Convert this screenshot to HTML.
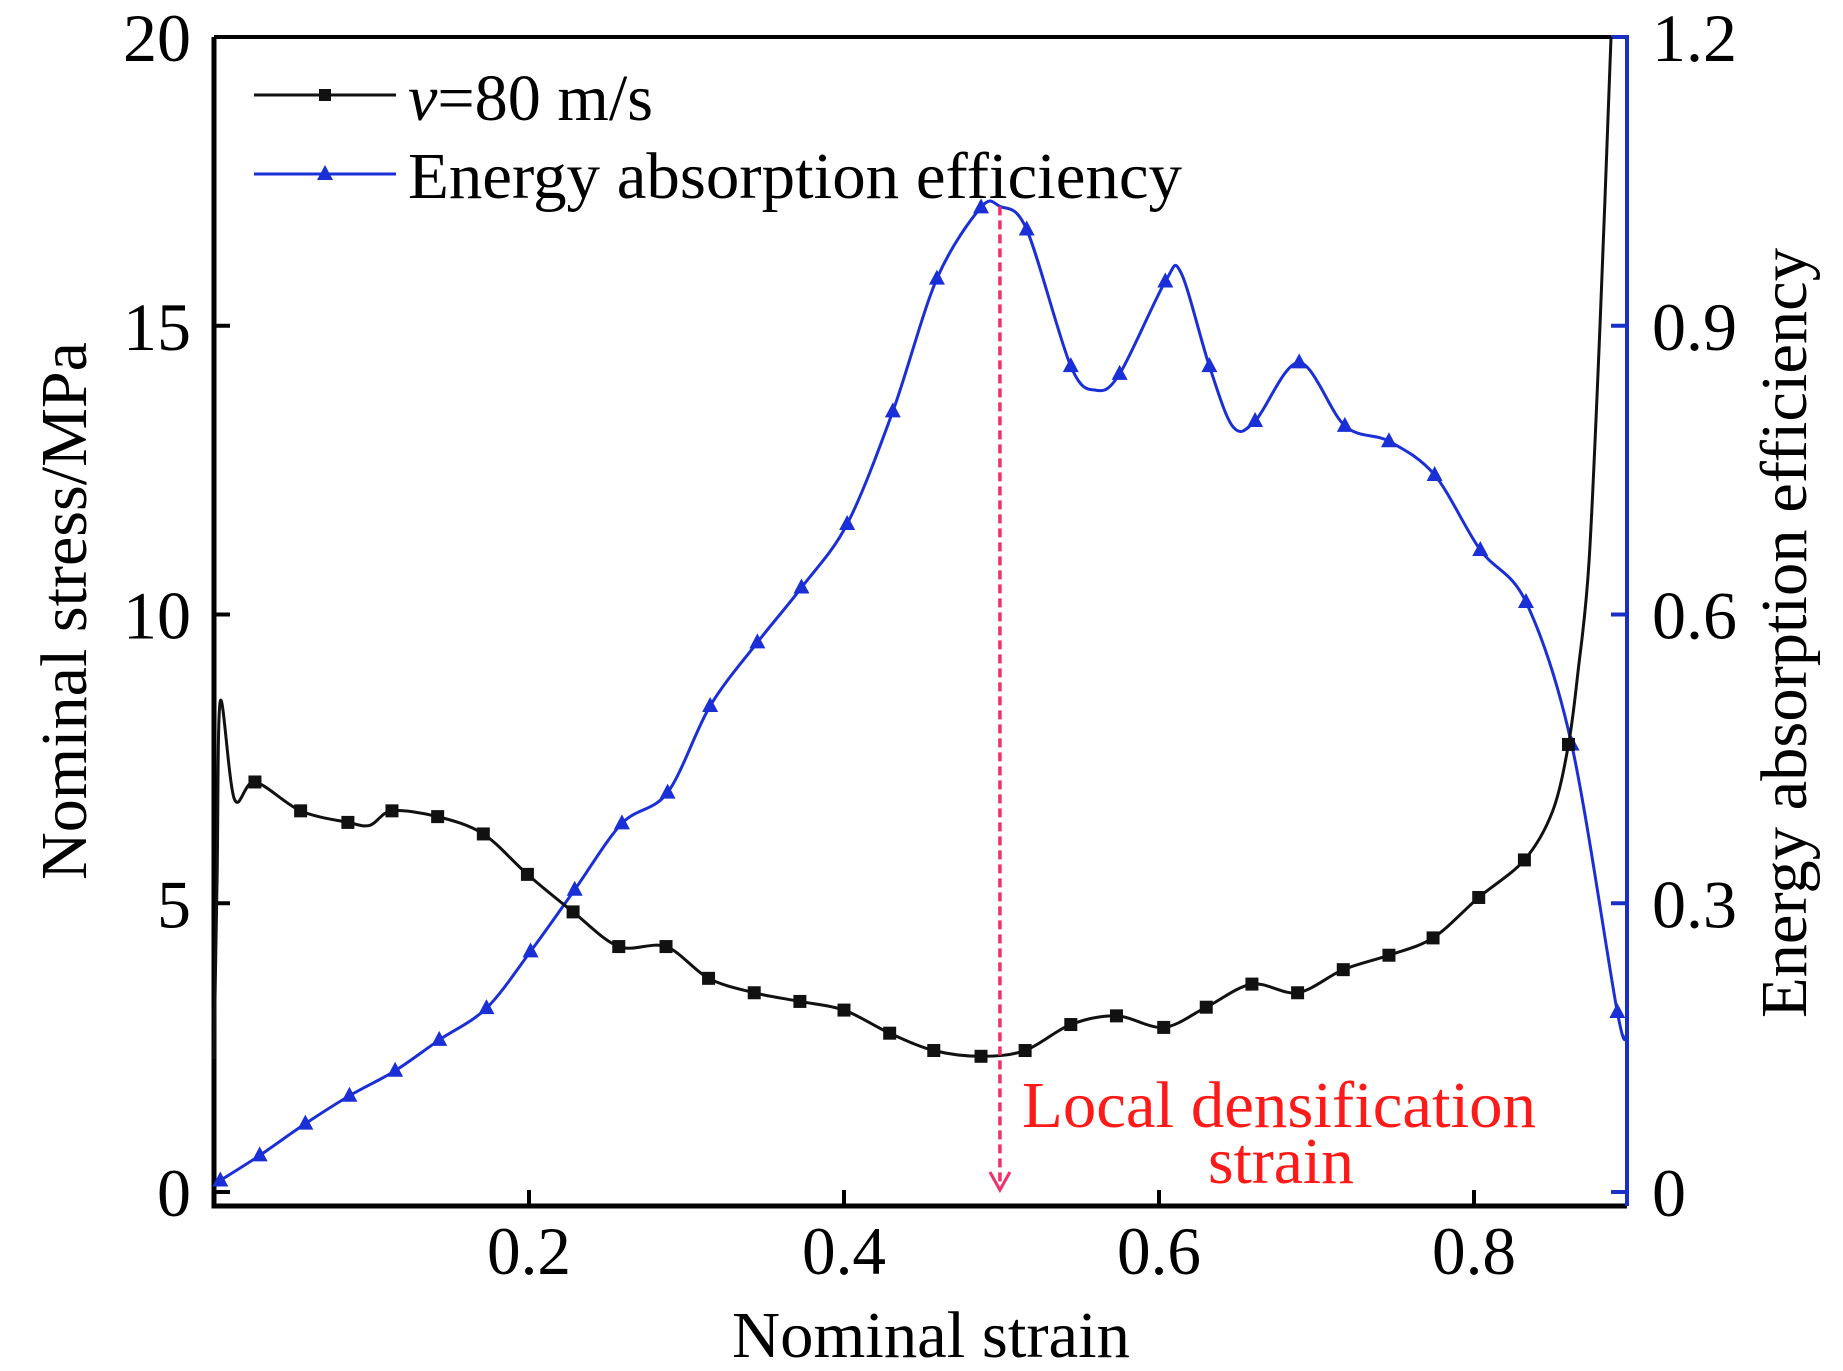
<!DOCTYPE html>
<html><head><meta charset="utf-8"><style>
html,body{margin:0;padding:0;background:#fff;}
svg{display:block;font-family:"Liberation Serif",serif;}
</style></head><body>
<svg id="chart" width="1843" height="1371" viewBox="0 0 1843 1371" xmlns="http://www.w3.org/2000/svg">
<g id="plot"></g>
</svg>
<script>
const stressX=[0,0.002,0.004,0.013,0.026,0.055,0.085,0.099,0.113,0.142,0.171,0.199,0.228,0.257,0.287,0.314,0.343,0.372,0.400,0.429,0.457,0.487,0.515,0.544,0.573,0.603,0.630,0.659,0.688,0.717,0.746,0.774,0.803,0.832,0.850,0.860,0.866,0.873,0.880,0.887];
const stressY=[2.3,5.5,8.5,6.8,7.1,6.6,6.4,6.35,6.6,6.5,6.2,5.5,4.85,4.25,4.25,3.7,3.45,3.3,3.15,2.75,2.45,2.35,2.45,2.9,3.05,2.85,3.2,3.6,3.45,3.85,4.1,4.4,5.1,5.75,6.6,7.75,9.0,10.9,15,20];
const stressMarker=[0,0,0,0,1,1,1,0,1,1,1,1,1,1,1,1,1,1,1,1,1,1,1,1,1,1,1,1,1,1,1,1,1,1,0,1,0,0,0,0];
const effX=[0.004,0.029,0.058,0.086,0.115,0.143,0.173,0.201,0.229,0.259,0.288,0.315,0.345,0.373,0.402,0.431,0.459,0.487,0.499,0.516,0.544,0.560,0.575,0.604,0.614,0.632,0.647,0.661,0.689,0.718,0.746,0.775,0.804,0.833,0.862,0.891,0.897];
const effY=[0.012,0.038,0.071,0.10,0.126,0.158,0.191,0.25,0.314,0.383,0.415,0.505,0.571,0.628,0.694,0.811,0.949,1.023,1.024,1.0,0.858,0.833,0.85,0.946,0.955,0.858,0.795,0.801,0.862,0.796,0.78,0.745,0.667,0.613,0.465,0.187,0.163];
const effMarker=[1,1,1,1,1,1,1,1,1,1,1,1,1,1,1,1,1,1,0,1,1,0,1,1,0,1,0,1,1,1,1,1,1,1,1,1,0];
const xTicks=[0.2,0.4,0.6,0.8];
const xTickLabels=["0.2","0.4","0.6","0.8"];
const yTicks=[0,5,10,15,20];
const yTickLabels=["0","5","10","15","20"];
const y2Ticks=[0,0.3,0.6,0.9,1.2];
const y2TickLabels=["0","0.3","0.6","0.9","1.2"];
const densStrain=[0.499];

const L=214,R=1627,T=37,B=1206,Y0=1192;
const sx=v=>L+v/0.2*315;
const sy=v=>Y0-v/20*(Y0-T);
const sy2=v=>Y0-v/1.2*(Y0-T);
const NS="http://www.w3.org/2000/svg";
const g=document.getElementById('plot');
function mk(tag,attrs,parent){const e=document.createElementNS(NS,tag);for(const k in attrs)e.setAttribute(k,attrs[k]);(parent||g).appendChild(e);return e;}
function smooth(pts){let d="M"+pts[0][0]+","+pts[0][1];for(let i=0;i<pts.length-1;i++){const p0=pts[Math.max(0,i-1)],p1=pts[i],p2=pts[i+1],p3=pts[Math.min(pts.length-1,i+2)];const t=0.16;d+=" C"+(p1[0]+(p2[0]-p0[0])*t)+","+(p1[1]+(p2[1]-p0[1])*t)+" "+(p2[0]-(p3[0]-p1[0])*t)+","+(p2[1]-(p3[1]-p1[1])*t)+" "+p2[0]+","+p2[1];}return d;}

let e;
e=mk('path',{d:`M${L},${T} L${R},${T}`,stroke:'#000','stroke-width':4,fill:'none'});

e=mk('path',{d:`M${L},${T} L${L},${B} L${R},${B}`,stroke:'#000','stroke-width':5,fill:'none'});

e=mk('path',{d:`M${R-12},${T} L${R},${T} L${R},${B}`,stroke:'#1a2fc8','stroke-width':4,fill:'none'});


xTicks.forEach((v,i)=>{
 e=mk('line',{x1:sx(v),x2:sx(v),y1:B,y2:B-16,stroke:'#000','stroke-width':4});
 
 e=mk('text',{x:sx(v),y:1274,'font-size':68,'text-anchor':'middle',textLength:84,lengthAdjust:'spacingAndGlyphs'});e.textContent=xTickLabels[i];
 
});
yTicks.forEach((v,i)=>{
 e=mk('text',{x:191,y:sy(v)+24,'font-size':68,'text-anchor':'end'});e.textContent=yTickLabels[i];
 
 e=mk('line',{x1:L,x2:L+16,y1:sy(v),y2:sy(v),stroke:'#000','stroke-width':4});
 
});
y2Ticks.forEach((v,i)=>{
 e=mk('line',{x1:R,x2:R-16,y1:sy2(v),y2:sy2(v),stroke:'#1a2fc8','stroke-width':4});
 
 e=mk('text',{x:1652,y:sy2(v)+24,'font-size':68,'text-anchor':'start'});e.textContent=y2TickLabels[i];
 
});

e=mk('text',{x:931,y:1357,'font-size':66,'text-anchor':'middle',textLength:398,lengthAdjust:'spacingAndGlyphs'});e.textContent='Nominal strain';

e=mk('text',{x:0,y:0,'font-size':66,'text-anchor':'middle',textLength:538,lengthAdjust:'spacingAndGlyphs',transform:'translate(86,611) rotate(-90)'});e.textContent='Nominal stress/MPa';

e=mk('text',{x:0,y:0,'font-size':66,'text-anchor':'middle',textLength:770,lengthAdjust:'spacingAndGlyphs',transform:'translate(1806,633) rotate(-90)'});e.textContent='Energy absorption efficiency';


const ep=effX.map((x,i)=>[sx(x),sy2(effY[i])]);
e=mk('path',{d:smooth(ep),stroke:'#1a2fd6','stroke-width':3,fill:'none'});

ep.forEach((p,i)=>{if(!effMarker[i])return;
 e=mk('polygon',{points:`${p[0]},${p[1]-9} ${p[0]-8},${p[1]+6} ${p[0]+8},${p[1]+6}`,fill:'#1a2fd6'});
 
});
const sp=stressX.map((x,i)=>[sx(x),sy(stressY[i])]);
e=mk('path',{d:smooth(sp),stroke:'#111','stroke-width':3,fill:'none'});

sp.forEach((p,i)=>{if(!stressMarker[i])return;
 e=mk('rect',{x:p[0]-6.5,y:p[1]-6.5,width:13,height:13,fill:'#111'});
 
});

densStrain.forEach(v=>{
 const ax=sx(v);
 e=mk('line',{x1:ax,x2:ax,y1:sy2(1.024),y2:Y0-2,stroke:'#f0306a','stroke-width':3.5,'stroke-dasharray':'9,5'});
 
 e=mk('path',{d:`M${ax-10},${Y0-20} L${ax},${Y0-2} L${ax+10},${Y0-20}`,stroke:'#f0306a','stroke-width':3,fill:'none'});
 
});
e=mk('text',{x:1022,y:1127,'font-size':66,fill:'#ff1a1a',textLength:514,lengthAdjust:'spacingAndGlyphs'});e.textContent='Local densification';

e=mk('text',{x:1208,y:1183,'font-size':66,fill:'#ff1a1a',textLength:146,lengthAdjust:'spacingAndGlyphs'});e.textContent='strain';


const lg=mk('g',{});

e=mk('line',{x1:254,x2:396,y1:95,y2:95,stroke:'#111','stroke-width':3},lg);

e=mk('rect',{x:319,y:89,width:12,height:12,fill:'#111'},lg);

e=mk('text',{x:408,y:120,'font-size':66,textLength:245,lengthAdjust:'spacingAndGlyphs'},lg);
e.innerHTML='<tspan font-style="italic">v</tspan>=80 m/s';

e=mk('line',{x1:254,x2:396,y1:174,y2:174,stroke:'#1a2fd6','stroke-width':3},lg);

e=mk('polygon',{points:'325,165 317,180 333,180',fill:'#1a2fd6'},lg);

e=mk('text',{x:408,y:198,'font-size':66,textLength:774,lengthAdjust:'spacingAndGlyphs'},lg);e.textContent='Energy absorption efficiency';

</script>
</body></html>
